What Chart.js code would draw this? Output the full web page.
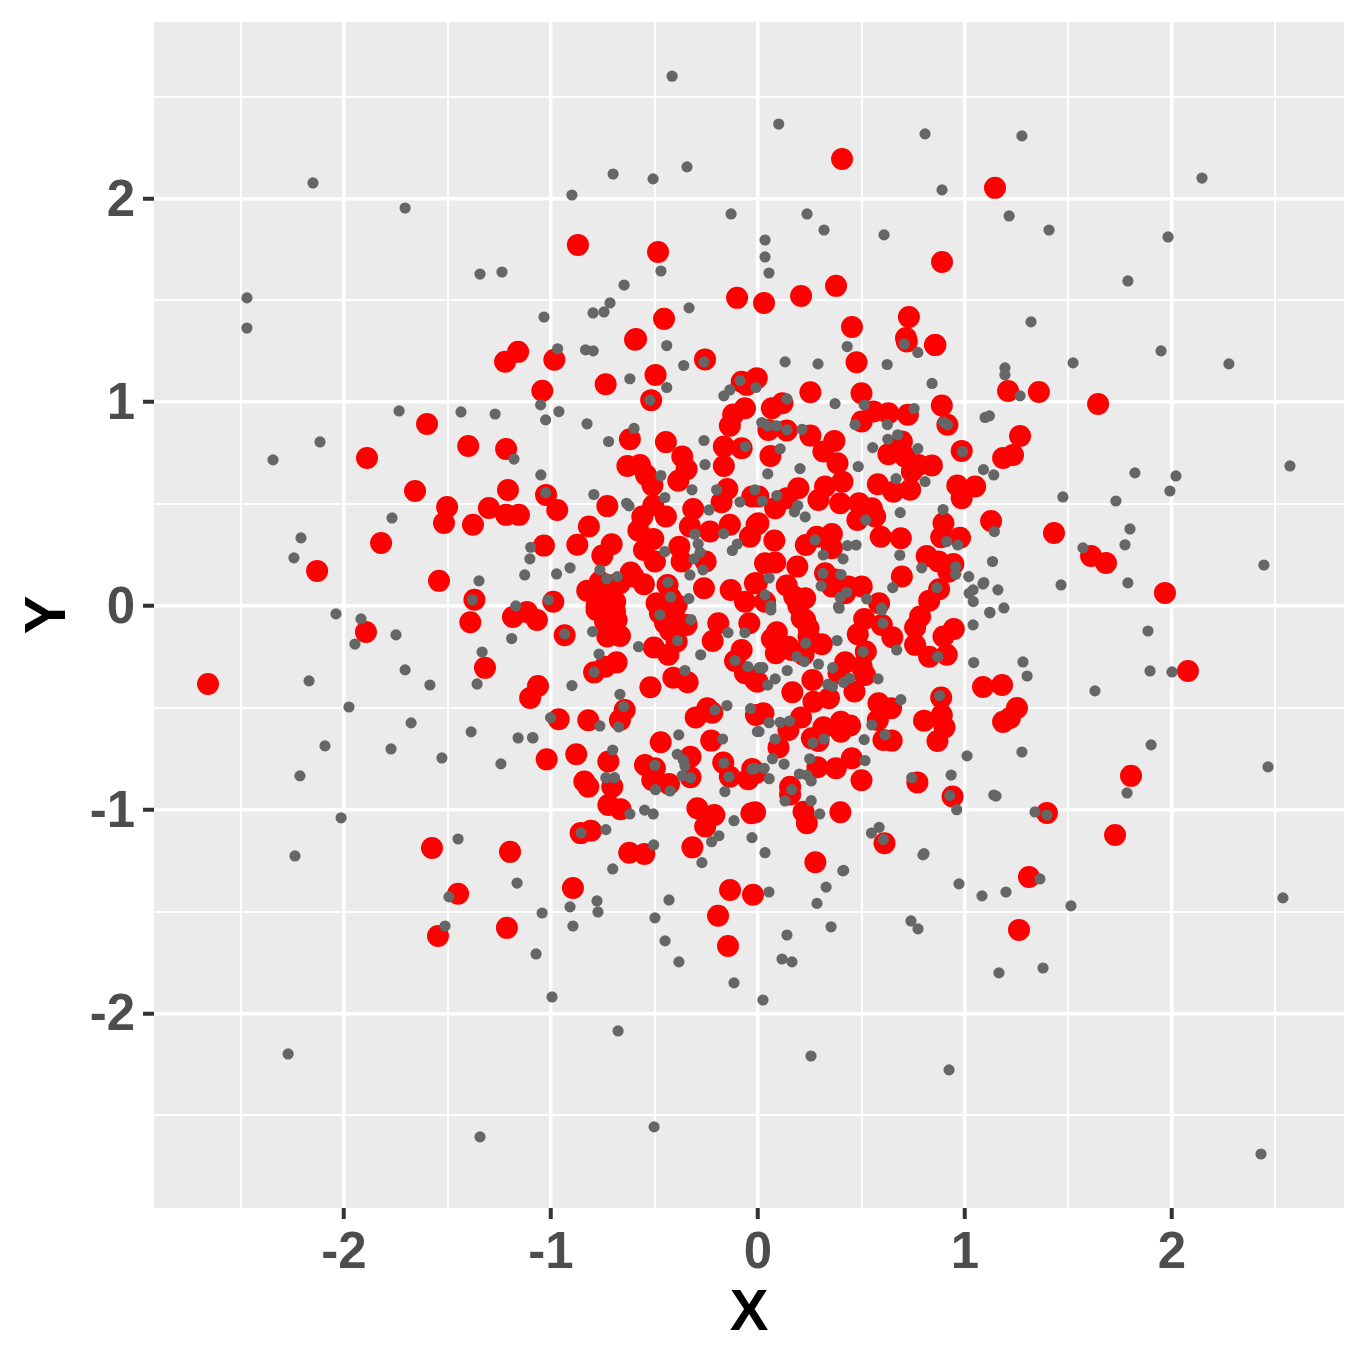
<!DOCTYPE html>
<html><head><meta charset="utf-8">
<script src="https://cdn.jsdelivr.net/npm/chart.js@4/dist/chart.umd.min.js"></script>
<style>html,body{margin:0;padding:0;background:#fff}canvas{display:block}</style>
</head><body><canvas id="c" width="1368" height="1365"></canvas>
<script>
const xTicks=[-2.5,-2,-1.5,-1,-0.5,0,0.5,1,1.5,2,2.5];
const yTicks=[-2.5,-2,-1.5,-1,-0.5,0,0.5,1,1.5,2,2.5];
const xRange=[-2.918,2.831];
const yRange=[-2.955,2.866];
const redPoints=[
[-1.042,1.056],[-0.984,1.208],[-0.594,1.306],[-0.736,1.088],[-0.495,1.134],[-0.516,1.01],[-0.256,1.21],[-0.079,1.1],[-0.055,1.085],[-0.063,0.97],[-0.12,0.94],[-0.136,0.884],[-0.165,0.782],[-0.079,0.774],[-0.165,0.687],[-0.619,0.818],[-0.445,0.804],[-0.366,0.733],[-0.345,0.671],[-0.385,0.614],[-0.631,0.687],[-0.57,0.692],[-0.541,0.643],[-0.51,0.592],[-1.024,0.545],[-0.97,0.471],[-0.728,0.49],[-0.148,0.574],[-0.176,0.509],[-0.028,0.537],[-0.313,0.476],[-0.506,0.493],[-0.445,0.439],[-0.559,0.439],[-0.329,0.39],[-0.578,0.37],[-0.506,0.329],[-0.232,0.365],[-0.136,0.398],[-0.039,0.34],[-0.007,0.398],[-0.817,0.39],[-0.873,0.3],[-1.034,0.296],[-0.707,0.303],[-0.752,0.247],[-0.551,0.275],[-0.498,0.218],[-0.38,0.291],[-0.369,0.218],[-0.253,0.218],[-0.615,0.164],[-0.764,0.119],[-0.667,0.111],[-0.551,0.106],[-0.825,0.075],[-0.261,0.087],[-0.437,0.103],[-0.422,0.04],[-0.132,0.078],[-0.063,0.021],[-0.015,0.111],[-0.989,0.021],[-0.78,0.0],[-0.69,0.02],[-0.49,0.013],[-0.393,0.005],[-0.771,0.046],[-0.699,0.103],[-0.602,0.144],[-0.683,-0.069],[-0.449,-0.085],[-0.425,-0.12],
[0.857,1.281],[0.719,1.298],[0.476,1.196],[-0.006,1.118],[0.253,1.049],[0.5,1.044],[0.067,0.97],[0.118,0.995],[0.558,0.954],[0.63,0.946],[0.501,0.905],[0.724,0.938],[0.888,0.984],[0.915,0.889],[0.05,0.864],[0.139,0.861],[0.253,0.836],[0.369,0.81],[0.316,0.758],[0.06,0.736],[0.984,0.761],[0.695,0.807],[0.63,0.745],[0.71,0.733],[0.775,0.692],[0.84,0.689],[0.384,0.7],[0.408,0.61],[0.324,0.586],[0.195,0.578],[0.292,0.52],[0.139,0.529],[0.083,0.479],[0.002,0.537],[0.397,0.504],[0.579,0.597],[0.654,0.561],[0.735,0.57],[0.743,0.66],[0.963,0.591],[1.049,0.586],[0.984,0.529],[0.488,0.504],[0.55,0.479],[0.566,0.439],[0.48,0.422],[0.896,0.406],[0.002,0.406],[0.885,0.337],[0.976,0.335],[0.593,0.34],[0.69,0.332],[0.079,0.321],[0.284,0.34],[0.357,0.353],[0.231,0.299],[0.357,0.283],[0.815,0.245],[0.872,0.218],[0.944,0.206],[0.92,0.168],[0.034,0.209],[0.083,0.213],[0.19,0.193],[0.695,0.144],[0.139,0.1],[0.228,0.038],[0.175,0.045],[0.324,0.16],[0.357,0.095],[0.437,0.095],[0.501,0.095],[0.585,0.013],[0.875,0.082],[0.827,0.026],[0.034,0.021],[-0.006,0.111],[0.421,0.062],[0.373,0.13],
[-0.934,-0.144],[-0.78,-0.02],[-0.691,-0.028],[-0.739,-0.077],[-0.667,-0.147],[-0.728,-0.15],[-0.474,-0.036],[-0.401,-0.06],[-0.345,-0.093],[-0.393,-0.175],[-0.503,-0.204],[-0.433,-0.24],[-0.192,-0.085],[-0.219,-0.172],[-0.042,-0.085],[-0.079,-0.216],[-0.111,-0.27],[-0.063,-0.33],[-0.003,-0.372],[-0.683,-0.277],[-0.739,-0.298],[-0.792,-0.326],[-0.409,-0.352],[-0.34,-0.375],[-0.52,-0.399],[-0.644,-0.511],[-0.667,-0.56],[-0.963,-0.556],[-0.82,-0.561],[-0.245,-0.502],[-0.301,-0.547],[-0.221,-0.524],[-0.01,-0.535],[-0.47,-0.669],[-0.226,-0.661],[-0.326,-0.74],[-0.168,-0.769],[-0.028,-0.8],[-0.136,-0.838],[-0.047,-0.851],[-0.326,-0.841],[-1.021,-0.753],[-0.878,-0.728],[-0.723,-0.764],[-0.546,-0.781],[-0.498,-0.797],[-0.511,-0.854],[-0.43,-0.874],[-0.839,-0.862],[-0.82,-0.887],[-0.704,-0.887],[-0.723,-0.977],[-0.664,-0.998],[-0.293,-0.993],[-0.211,-1.026],[-0.255,-1.083],[-0.032,-1.018],[-0.857,-1.115],[-0.807,-1.103],[-0.622,-1.211],[-0.549,-1.218],[-0.317,-1.185],
[0.195,0.0],[0.228,-0.069],[0.513,-0.064],[0.598,-0.093],[0.649,-0.154],[0.482,-0.139],[0.783,-0.052],[0.759,-0.106],[0.946,-0.113],[0.896,-0.15],[0.759,-0.191],[0.827,-0.249],[0.912,-0.24],[0.091,-0.129],[0.067,-0.162],[0.086,-0.232],[0.163,-0.216],[0.244,-0.11],[0.308,-0.188],[0.22,-0.24],[0.521,-0.224],[0.421,-0.277],[0.501,-0.298],[0.389,-0.33],[0.517,-0.339],[0.466,-0.42],[0.263,-0.363],[0.166,-0.424],[0.343,-0.453],[0.268,-0.47],[-0.014,-0.363],[0.582,-0.478],[0.643,-0.502],[0.579,-0.56],[0.885,-0.45],[0.888,-0.535],[0.802,-0.563],[0.901,-0.596],[0.867,-0.663],[0.026,-0.527],[0.208,-0.548],[0.147,-0.609],[0.316,-0.596],[0.4,-0.568],[0.4,-0.617],[0.445,-0.587],[0.26,-0.65],[0.292,-0.663],[0.606,-0.658],[0.646,-0.661],[0.099,-0.695],[0.453,-0.748],[0.376,-0.797],[0.287,-0.792],[0.5,-0.856],[0.77,-0.866],[0.94,-0.935],[0.155,-0.887],[0.155,-0.925],[-0.01,-0.82],[0.22,-1.01],[0.236,-1.067],[0.398,-1.013],[-0.014,-1.013],[0.611,-1.165],[0.277,-1.258],[0.211,-0.06],[0.244,-0.15],[0.147,-0.2],
[0.406,2.194],[1.145,2.052],[-0.87,1.772],[-0.483,1.737],[0.889,1.688],[0.377,1.571],[0.208,1.521],[-0.101,1.512],[0.029,1.487],[-0.454,1.409],[-0.589,1.31],[0.729,1.418],[0.715,1.315],[0.454,1.369],[0.855,1.281],[-1.159,1.247],[-1.222,1.198],[1.208,1.055],[1.357,1.05],[1.643,0.991],[1.266,0.834],[1.232,0.741],[1.184,0.726],[1.126,0.417],[1.43,0.358],[1.609,0.245],[1.681,0.211],[1.966,0.064],[2.077,-0.319],[1.087,-0.398],[1.179,-0.388],[1.184,-0.569],[1.217,-0.55],[1.251,-0.501],[1.802,-0.834],[1.725,-1.124],[1.396,-1.016],[1.309,-1.33],[1.261,-1.59],[-0.024,-1.418],[-0.135,-1.394],[-0.193,-1.521],[-0.145,-1.669],[-0.894,-1.384],[-1.198,-1.207],[-1.575,-1.188],[-1.449,-1.413],[-1.546,-1.62],[-1.213,-1.58],
[-1.37,0.03],[-1.39,-0.08],[-1.319,-0.304],[-1.4,0.785],[-1.217,0.77],[-1.208,0.569],[-1.217,0.447],[-1.155,0.447],[-1.3,0.481],[-1.377,0.398],[-1.502,0.486],[-1.517,0.407],[-1.541,0.123],[-1.657,0.564],[-1.599,0.893],[-1.889,0.726],[-1.821,0.309],[-2.13,0.172],[-1.894,-0.128],[-2.657,-0.383],[-1.184,-0.054],[-1.116,-0.03],[-1.068,-0.069],[-1.101,-0.452],[-1.063,-0.393]
];
const grayPoints=[
[-0.968,1.262],[-0.833,1.257],[-0.796,1.252],[-0.441,1.278],[-0.359,1.18],[-0.261,1.198],[-0.619,1.115],[-0.441,1.072],[-0.522,1.01],[-0.087,1.106],[-0.01,1.072],[-0.136,1.06],[-0.165,1.031],[-1.05,0.987],[-0.962,0.954],[-1.026,0.913],[-0.826,0.894],[-0.599,0.871],[-0.722,0.807],[-0.261,0.812],[-0.061,0.782],[-0.256,0.694],[-1.049,0.643],[-0.469,0.64],[-0.793,0.547],[-1.026,0.556],[-0.319,0.57],[-0.2,0.57],[-0.015,0.57],[-0.45,0.532],[-0.087,0.51],[-0.635,0.504],[-0.623,0.491],[-0.237,0.471],[-0.305,0.352],[-0.166,0.355],[-0.289,0.304],[-0.1,0.304],[-0.124,0.272],[-0.28,0.263],[-0.45,0.267],[-0.309,0.231],[-1.098,0.288],[-1.102,0.231],[-1.127,0.152],[-0.908,0.187],[-0.973,0.157],[-0.266,0.177],[-0.329,0.152],[-0.764,0.177],[-0.731,0.133],[-0.68,0.144],[-0.435,0.116],[-0.422,0.044],[-0.334,0.036],[-1.012,0.03],
[0.431,1.273],[0.706,1.286],[0.772,1.244],[0.131,1.198],[0.29,1.188],[0.624,1.185],[0.841,1.092],[0.14,1.016],[0.372,0.993],[0.513,0.987],[0.754,0.969],[1.097,0.925],[1.118,0.933],[0.469,0.89],[0.625,0.89],[0.896,0.902],[0.915,0.89],[0.018,0.9],[0.047,0.884],[0.09,0.884],[0.14,0.864],[0.213,0.867],[0.675,0.84],[0.627,0.818],[0.772,0.772],[0.554,0.777],[0.107,0.771],[0.988,0.758],[0.203,0.674],[0.484,0.684],[0.047,0.648],[1.089,0.669],[1.139,0.643],[0.667,0.625],[0.807,0.61],[0.091,0.542],[0.021,0.515],[0.192,0.493],[0.176,0.462],[0.228,0.437],[0.687,0.458],[0.894,0.473],[0.521,0.422],[0.276,0.324],[0.432,0.296],[0.474,0.299],[0.912,0.316],[0.965,0.299],[0.315,0.25],[0.411,0.231],[0.685,0.249],[0.791,0.187],[0.955,0.193],[0.955,0.155],[1.018,0.144],[1.091,0.115],[0.313,0.16],[0.305,0.098],[0.401,0.154],[0.054,0.137],[0.651,0.09],[0.864,0.09],[1.02,0.062],[1.04,0.021],[0.429,0.067],[0.397,0.042],[0.525,0.034],[0.034,0.054],[0.062,0.0],[0.389,-0.003],[0.598,-0.01],[1.133,0.218],[1.142,0.365],
[-0.474,-0.044],[-0.324,-0.067],[-0.799,-0.126],[-0.934,-0.137],[-0.577,-0.2],[-0.388,-0.17],[-0.145,-0.131],[-0.063,-0.131],[-0.277,-0.24],[-0.768,-0.236],[-0.111,-0.268],[-0.049,-0.298],[0.006,-0.303],[-0.792,-0.324],[-0.353,-0.317],[-0.899,-0.391],[-0.667,-0.434],[-0.649,-0.493],[-0.673,-0.594],[-0.15,-0.489],[-0.036,-0.504],[-0.208,-0.51],[-1.002,-0.548],[-0.764,-0.589],[-0.003,-0.617],[-0.383,-0.633],[-1.089,-0.646],[-1.159,-0.648],[-0.171,-0.653],[-0.702,-0.707],[-0.39,-0.728],[-0.361,-0.756],[-0.353,-0.784],[-0.498,-0.782],[-0.165,-0.771],[-0.029,-0.8],[-0.366,-0.833],[-0.326,-0.843],[-0.14,-0.838],[-0.735,-0.843],[-0.693,-0.843],[-0.495,-0.902],[-0.425,-0.908],[-0.16,-0.911],[-0.619,-1.021],[-0.548,-1.002],[-0.506,-1.021],[-0.116,-1.054],[-0.189,-1.128],[-0.224,-1.157],[-0.029,-1.137],[-0.735,-1.098],[-0.855,-1.114],[-0.504,-1.173],[-0.271,-1.26],[-0.702,-1.291],
[0.392,-0.011],[0.598,-0.02],[0.604,-0.085],[0.062,-0.02],[1.039,-0.093],[1.12,-0.031],[0.382,-0.17],[0.231,-0.183],[0.67,-0.216],[0.508,-0.224],[0.187,-0.249],[0.224,-0.273],[0.292,-0.286],[0.868,-0.249],[1.042,-0.278],[0.023,-0.303],[0.141,-0.317],[0.361,-0.303],[0.083,-0.358],[0.047,-0.388],[0.443,-0.355],[0.413,-0.375],[0.58,-0.358],[0.337,-0.385],[0.36,-0.396],[0.877,-0.44],[0.69,-0.46],[0.55,-0.584],[0.054,-0.573],[0.107,-0.571],[0.152,-0.565],[0.005,-0.617],[0.614,-0.633],[0.319,-0.653],[0.265,-0.673],[0.083,-0.653],[0.513,-0.656],[1.01,-0.736],[0.25,-0.75],[0.517,-0.759],[0.07,-0.75],[0.126,-0.776],[0.03,-0.797],[-0.014,-0.797],[0.054,-0.848],[0.2,-0.825],[0.236,-0.83],[0.257,-0.859],[0.743,-0.843],[0.933,-0.83],[0.163,-0.902],[0.926,-0.93],[0.131,-0.957],[0.96,-1.0],[0.257,-0.956],[0.298,-1.021],[1.139,-0.928],[0.585,-1.087],[0.548,-1.115],[0.606,-1.146],[0.034,-1.211],[0.802,-1.216],[0.414,-1.298],
[-0.415,2.6],[0.1,2.365],[0.807,2.317],[1.275,2.307],[2.145,2.1],[-2.15,2.076],[-0.343,2.155],[-0.7,2.12],[-0.507,2.096],[0.889,2.042],[-0.899,2.017],[-1.705,1.953],[-0.13,1.924],[0.237,1.924],[1.213,1.914],[0.319,1.845],[1.406,1.845],[0.609,1.821],[1.981,1.811],[0.034,1.796],[0.034,1.713],[0.053,1.634],[-0.469,1.644],[-1.343,1.629],[-1.237,1.639],[1.787,1.595],[-0.647,1.575],[-2.469,1.512],[-0.715,1.487],[-2.469,1.364],[-0.797,1.438],[-0.744,1.443],[-0.333,1.463],[-1.034,1.418],[1.319,1.394],[1.947,1.252],[2.275,1.188],[1.522,1.193],[1.193,1.168],[1.193,1.134],[1.266,1.031],
[-1.734,0.957],[-1.435,0.952],[-1.27,0.942],[-2.116,0.805],[-2.343,0.717],[-1.179,0.721],[2.57,0.687],[2.019,0.638],[1.821,0.653],[1.729,0.515],[1.99,0.564],[1.473,0.535],[1.797,0.378],[1.773,0.3],[-1.768,0.432],[-2.208,0.334],[-2.242,0.236],[2.444,0.201],[1.57,0.285],[1.787,0.113],[1.464,0.103],[-1.348,0.123],[-1.38,0.03],[1.087,0.108],[1.188,-0.01],[1.12,-0.034],[1.039,0.079],[1.159,0.079],[-2.039,-0.039],[-1.918,-0.064],[-1.947,-0.187],[-1.749,-0.142],[1.884,-0.123],[-1.333,-0.226],[-1.705,-0.314],[1.894,-0.319],[2.0,-0.324],[1.28,-0.275],[1.3,-0.344],[-2.169,-0.368],[-1.585,-0.388],[-1.357,-0.383],[1.628,-0.417],[-1.976,-0.496],[-1.676,-0.574],[-1.386,-0.618],[-1.087,-0.648],[-2.092,-0.687],[-1.773,-0.702],[1.899,-0.682],[1.275,-0.717],[-1.527,-0.746],[-1.242,-0.775],[2.464,-0.79],[-2.213,-0.834],[1.783,-0.918],[1.15,-0.933],[1.338,-1.011],[1.396,-1.026],[-2.014,-1.04],[-1.449,-1.144],[-2.237,-1.227],[0.797,-1.222],[1.362,-1.34],[-1.164,-1.36],[0.971,-1.364],[1.082,-1.423],[1.198,-1.404],[0.053,-1.404],[0.285,-1.46],[0.329,-1.38],[0.41,-1.3],[-1.493,-1.428],[2.536,-1.433],[1.512,-1.472],[-0.908,-1.477],[-0.778,-1.448],[-0.773,-1.502],[-1.043,-1.507],[-0.43,-1.443],[-0.498,-1.531],[-0.894,-1.571],[-1.512,-1.571],[0.739,-1.546],[0.773,-1.585],[0.353,-1.575],[0.14,-1.615],[-0.449,-1.644],[-1.072,-1.708],[-0.382,-1.747],[0.116,-1.733],[0.164,-1.747],[1.377,-1.777],[1.164,-1.801],[-0.116,-1.85],[-0.995,-1.919],[0.024,-1.934],[-0.676,-2.086],[-2.27,-2.199],[0.256,-2.209],[0.923,-2.277],[-0.502,-2.557],[-1.343,-2.606],[2.43,-2.69],[-1.17,0.0],[-1.19,-0.16]
];
const toXY=p=>({x:p[0],y:p[1]});
const isMajor=v=>Number.isInteger(v)&&Math.abs(v)<=2;
const noPad=s=>{s.paddingTop=0;s.paddingBottom=0;s.paddingLeft=0;s.paddingRight=0;};
const scaleCommon=(ticks,range)=>({
  type:'linear',min:range[0],max:range[1],
  afterBuildTicks:s=>{s.ticks=ticks.map(v=>({value:v}));},
  border:{display:false},
  grid:{color:'#FFFFFF',drawTicks:true,tickLength:11,
    lineWidth:c=>isMajor(c.tick.value)?3.5:2,
    tickColor:c=>isMajor(c.tick.value)?'#333333':'rgba(0,0,0,0)',
    tickWidth:4},
  ticks:{autoSkip:false,maxRotation:0,minRotation:0,color:'#4D4D4D',
    font:{family:'"Liberation Sans"',weight:'bold',size:51},
    callback:v=>isMajor(v)?String(v):''}
});
const xs=scaleCommon(xTicks,xRange);
xs.title={display:true,text:'X',color:'#000000',font:{family:'"Liberation Sans"',weight:'bold',size:58},padding:{top:0,bottom:16}};
xs.ticks.padding=4;
xs.afterFit=s=>{s.height=157;noPad(s);};
const ys=scaleCommon(yTicks,yRange);
ys.title={display:true,text:'Y',color:'#000000',font:{family:'"Liberation Sans"',weight:'bold',size:58},padding:{top:14,bottom:0}};
ys.ticks.padding=8;
ys.ticks.font=Object.assign({},ys.ticks.font,{lineHeight:'6px'});
ys.ticks.callback=v=>isMajor(v)?['',String(v)]:'';
ys.afterFit=s=>{s.width=154;noPad(s);};
const panelBg={id:'panelBg',beforeDraw(ch){const a=ch.chartArea,g=ch.ctx;g.save();g.fillStyle='#EBEBEB';g.fillRect(a.left,a.top,a.right-a.left,a.bottom-a.top);g.restore();}};
new Chart(document.getElementById('c'),{
  type:'scatter',
  data:{datasets:[
    {label:'red',data:redPoints.map(toXY),backgroundColor:'#FF0000',borderWidth:0,pointRadius:11,order:2},
    {label:'gray',data:grayPoints.map(toXY),backgroundColor:'#666666',borderWidth:0,pointRadius:5.6,order:1}
  ]},
  options:{responsive:false,animation:false,
    layout:{padding:{top:22,right:24,left:0,bottom:0}},
    plugins:{legend:{display:false},tooltip:{enabled:false}},
    scales:{x:xs,y:ys}},
  plugins:[panelBg]
});
</script></body></html>
